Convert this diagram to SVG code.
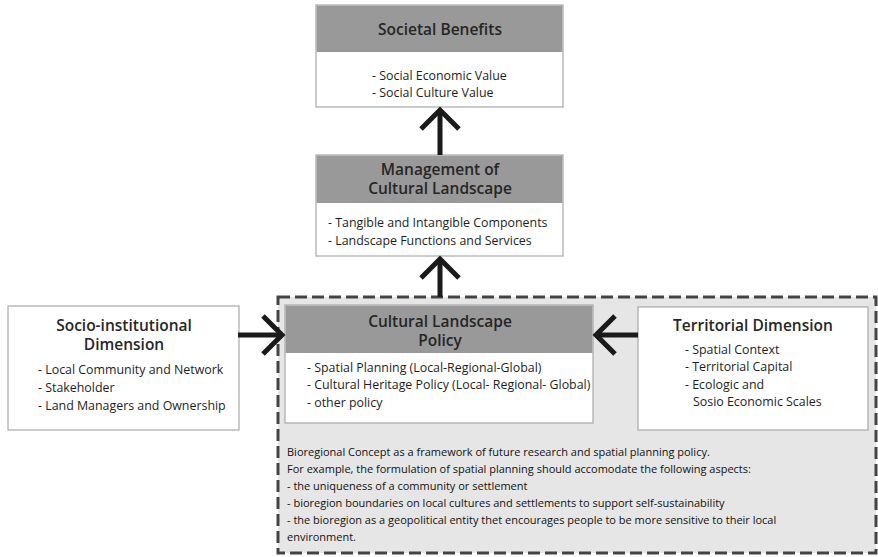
<svg xmlns="http://www.w3.org/2000/svg" width="878" height="557" viewBox="0 0 878 557">
<style>
.box{fill:#fff;stroke:#a8a8a8;stroke-width:1.2}
.hdr{fill:#999;stroke:none}
.t{font-family:"Open Sans","Liberation Sans",sans-serif;fill:#1e1e1e}
.title{font-size:15.5px;font-weight:600;text-anchor:middle;fill:#262626}
.body{font-size:12.4px}
.note{font-size:11px;fill:#111}
.arr{fill:none;stroke:#1a1a1a;stroke-width:5;stroke-linecap:butt;stroke-linejoin:miter}
</style>
<rect width="878" height="557" fill="#fff"/>
<g id="region">
<rect x="278" y="297" width="598" height="256" fill="#e6e6e6" stroke="#444" stroke-width="3" stroke-dasharray="12,5"/>
<text class="t note"><tspan x="287" y="456">Bioregional Concept as a framework of future research and spatial planning policy.</tspan><tspan x="287" y="473">For example, the formulation of spatial planning should accomodate the following aspects:</tspan><tspan x="287" y="490">- the uniqueness of a community or settlement</tspan><tspan x="287" y="507">- bioregion boundaries on local cultures and settlements to support self-sustainability</tspan><tspan x="287" y="524">- the bioregion as a geopolitical entity thet encourages people to be more sensitive to their local</tspan><tspan x="287" y="541">environment.</tspan></text>
</g>
<g id="societal">
<rect class="box" x="316" y="5" width="247" height="102"/>
<rect class="hdr" x="316.6" y="5.6" width="245.8" height="46.4"/>
<text class="t title" x="440" y="35">Societal Benefits</text>
<text class="t body"><tspan x="372" y="80">- Social Economic Value</tspan><tspan x="372" y="97">- Social Culture Value</tspan></text>
</g>
<g id="management">
<rect class="box" x="316" y="155" width="247" height="101"/>
<rect class="hdr" x="316.6" y="155.6" width="245.8" height="47.4"/>
<text class="t title"><tspan x="440" y="175">Management of</tspan><tspan x="440" y="194">Cultural Landscape</tspan></text>
<text class="t body"><tspan x="328" y="227">- Tangible and Intangible Components</tspan><tspan x="328" y="245">- Landscape Functions and Services</tspan></text>
</g>
<g id="policy">
<rect class="box" x="285" y="305" width="308" height="118"/>
<rect class="hdr" x="285.6" y="305.6" width="306.8" height="47.4"/>
<text class="t title"><tspan x="440" y="327">Cultural Landscape</tspan><tspan x="440" y="346">Policy</tspan></text>
<text class="t body"><tspan x="307" y="372">- Spatial Planning (Local-Regional-Global)</tspan><tspan x="307" y="389">- Cultural Heritage Policy (Local- Regional- Global)</tspan><tspan x="307" y="407">- other policy</tspan></text>
</g>
<g id="socio">
<rect class="box" x="8" y="306" width="231" height="124"/>
<text class="t title"><tspan x="124" y="331">Socio-institutional</tspan><tspan x="124" y="350">Dimension</tspan></text>
<text class="t body"><tspan x="38" y="374">- Local Community and Network</tspan><tspan x="38" y="392">- Stakeholder</tspan><tspan x="38" y="410">- Land Managers and Ownership</tspan></text>
</g>
<g id="territorial">
<rect class="box" x="638" y="307" width="230" height="123"/>
<text class="t title" x="753" y="331">Territorial Dimension</text>
<text class="t body"><tspan x="685" y="354">- Spatial Context</tspan><tspan x="685" y="371">- Territorial Capital</tspan><tspan x="685" y="389">- Ecologic and</tspan><tspan x="693" y="406">Sosio Economic Scales</tspan></text>
</g>
<g id="connectors">
<line class="arr" x1="440" y1="155" x2="440" y2="112"/>
<polyline class="arr" points="421,129 440,110 459,129"/>
<line class="arr" x1="440" y1="297" x2="440" y2="261"/>
<polyline class="arr" points="421,278 440,259 459,278"/>
<line class="arr" x1="238" y1="335" x2="280" y2="335"/>
<polyline class="arr" points="263,316 282,335 263,354"/>
<line class="arr" x1="638" y1="335" x2="598" y2="335"/>
<polyline class="arr" points="615,316 596,335 615,354"/>
</g>
</svg>
